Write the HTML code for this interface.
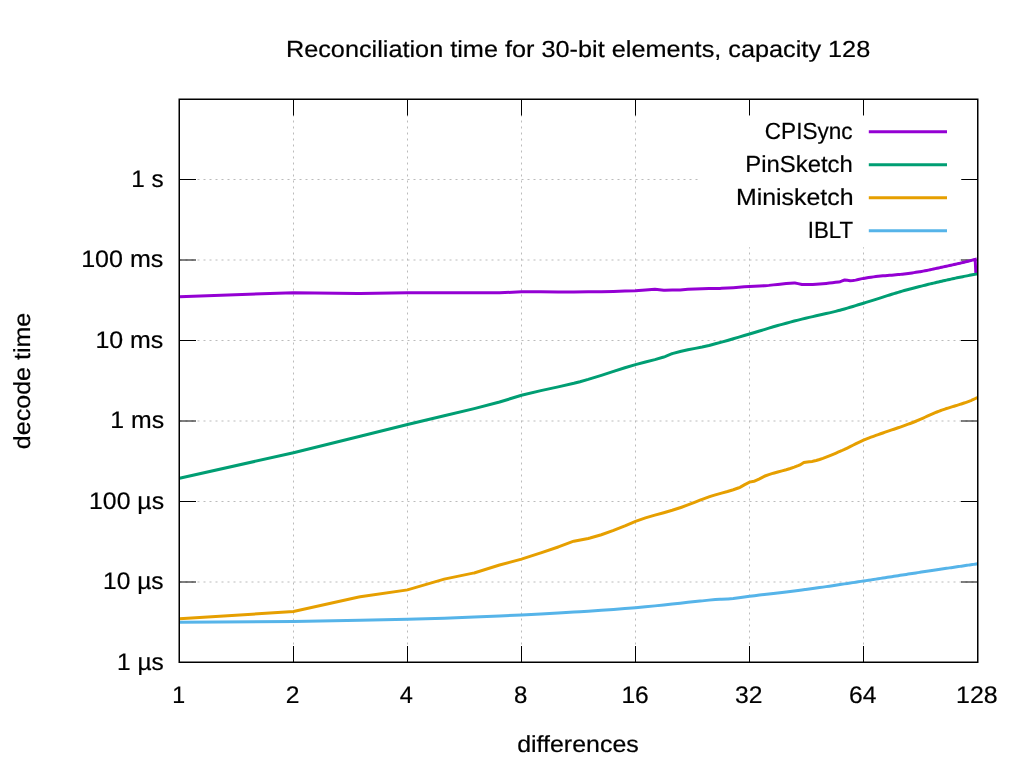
<!DOCTYPE html><html><head><meta charset="utf-8"><style>html,body{margin:0;padding:0;background:#fff;width:1024px;height:768px;overflow:hidden}svg{display:block;will-change:transform}text{font-family:"Liberation Sans", sans-serif;font-size:23.3px;fill:#000;stroke:#000;stroke-width:0.2px;text-rendering:geometricPrecision}</style></head><body>
<svg width="1024" height="768" viewBox="0 0 1024 768">
<rect x="0" y="0" width="1024" height="768" fill="#fff"/>
<g fill="none" stroke="#bbb" stroke-width="1" stroke-dasharray="2 4"><path d="M179.50,582.00 H977.50"/><path d="M179.50,501.50 H977.50"/><path d="M179.50,421.00 H977.50"/><path d="M179.50,340.50 H977.50"/><path d="M179.50,260.00 H977.50"/><path d="M179.50,179.50 H977.50"/><path d="M293.50,662.50 V99.00"/><path d="M407.50,662.50 V99.00"/><path d="M521.50,662.50 V99.00"/><path d="M635.50,662.50 V99.00"/><path d="M749.50,662.50 V99.00"/><path d="M863.50,662.50 V99.00"/></g>
<path d="M179.50,582.00 h16.50 M977.50,582.00 h-16.50 M179.50,501.50 h16.50 M977.50,501.50 h-16.50 M179.50,421.00 h16.50 M977.50,421.00 h-16.50 M179.50,340.50 h16.50 M977.50,340.50 h-16.50 M179.50,260.00 h16.50 M977.50,260.00 h-16.50 M179.50,179.50 h16.50 M977.50,179.50 h-16.50 M293.50,662.50 v-16.50 M293.50,99.00 v16.50 M407.50,662.50 v-16.50 M407.50,99.00 v16.50 M521.50,662.50 v-16.50 M521.50,99.00 v16.50 M635.50,662.50 v-16.50 M635.50,99.00 v16.50 M749.50,662.50 v-16.50 M749.50,99.00 v16.50 M863.50,662.50 v-16.50 M863.50,99.00 v16.50" fill="none" stroke="#000" stroke-width="1"/>
<rect x="698" y="115.75" width="263.25" height="131.5" fill="#fff"/>
<path d="M179.50,296.70 L293.50,292.70 L357.70,293.40 L360.19,293.40 L407.50,292.80 L444.20,292.80 L474.19,292.80 L499.54,292.80 L499.60,292.80 L521.50,291.80 L540.87,291.83 L558.20,291.88 L572.00,291.90 L573.88,291.90 L588.19,291.82 L601.35,291.64 L613.54,291.40 L624.89,291.12 L635.50,290.80 L645.47,289.95 L654.87,289.30 L655.00,289.30 L663.76,290.16 L665.00,290.20 L672.20,290.11 L680.00,289.90 L680.22,289.89 L687.88,289.37 L695.00,288.90 L695.19,288.89 L702.19,288.73 L708.90,288.62 L715.35,288.52 L720.00,288.40 L721.56,288.35 L727.54,288.05 L733.31,287.65 L738.89,287.23 L744.28,286.84 L749.50,286.50 L754.56,286.25 L759.47,286.02 L764.24,285.75 L765.00,285.70 L768.87,285.37 L773.38,284.88 L777.76,284.41 L780.00,284.20 L782.04,284.02 L786.20,283.61 L790.26,283.27 L794.22,283.11 L795.00,283.10 L798.09,283.60 L801.88,284.52 L803.00,284.60 L805.57,284.59 L809.19,284.51 L812.72,284.39 L816.19,284.22 L819.58,284.00 L822.90,283.73 L826.16,283.44 L829.35,283.10 L832.48,282.73 L835.56,282.34 L838.58,281.91 L840.00,281.70 L841.54,281.20 L844.45,280.05 L845.00,280.00 L847.31,280.35 L850.00,280.80 L850.12,280.80 L852.89,280.60 L855.60,280.12 L858.28,279.51 L860.91,278.90 L863.50,278.40 L866.05,277.99 L868.56,277.59 L871.03,277.22 L873.47,276.87 L875.87,276.55 L878.00,276.30 L878.24,276.27 L880.57,276.04 L882.87,275.83 L885.14,275.64 L887.38,275.46 L889.59,275.29 L891.76,275.13 L893.91,274.96 L896.04,274.78 L898.13,274.59 L900.00,274.40 L900.20,274.38 L902.24,274.16 L904.26,273.92 L906.25,273.68 L908.22,273.43 L910.17,273.17 L912.09,272.90 L914.00,272.63 L915.88,272.35 L917.73,272.06 L919.57,271.77 L920.00,271.70 L921.39,271.47 L923.19,271.14 L924.96,270.81 L926.72,270.46 L928.46,270.10 L930.19,269.73 L931.89,269.37 L933.58,269.00 L935.25,268.63 L936.90,268.27 L938.54,267.91 L940.00,267.60 L940.16,267.57 L941.76,267.23 L943.35,266.89 L944.92,266.55 L946.48,266.22 L948.03,265.88 L949.56,265.55 L951.07,265.22 L952.58,264.89 L954.06,264.56 L955.54,264.23 L957.00,263.89 L958.45,263.56 L959.89,263.23 L960.00,263.20 L961.31,262.89 L962.72,262.55 L964.12,262.21 L965.51,261.87 L966.89,261.53 L968.25,261.19 L969.60,260.85 L970.95,260.51 L972.28,260.16 L973.60,259.82 L974.91,259.48 L975.20,259.40 L975.80,273.00" fill="none" stroke="#9400d3" stroke-width="3" stroke-linejoin="miter" stroke-linecap="butt"/>
<path d="M179.50,478.20 L293.50,452.70 L360.19,436.32 L407.50,424.50 L444.20,415.81 L474.19,408.65 L499.54,402.02 L499.60,402.00 L521.50,395.30 L540.87,390.61 L558.20,386.86 L573.88,383.26 L580.00,381.70 L588.19,379.41 L601.35,375.36 L613.54,371.42 L624.89,367.79 L635.50,364.60 L645.47,361.99 L654.87,359.62 L663.76,357.02 L665.00,356.60 L672.00,353.70 L672.20,353.64 L680.22,351.45 L687.88,349.78 L695.19,348.35 L702.19,346.96 L708.90,345.47 L710.00,345.20 L715.35,343.82 L721.56,342.14 L727.54,340.44 L733.31,338.76 L738.89,337.12 L744.28,335.53 L749.50,334.00 L754.56,332.50 L759.47,331.02 L764.24,329.56 L768.87,328.15 L773.38,326.81 L777.76,325.53 L780.00,324.90 L782.04,324.33 L786.20,323.20 L790.26,322.11 L794.22,321.07 L798.09,320.08 L800.00,319.60 L801.88,319.14 L805.57,318.25 L809.19,317.40 L812.72,316.60 L816.19,315.82 L819.58,315.07 L822.90,314.32 L826.16,313.58 L829.35,312.84 L832.48,312.10 L835.56,311.34 L838.58,310.57 L840.00,310.20 L841.54,309.79 L844.45,308.97 L847.31,308.14 L850.12,307.30 L852.89,306.46 L855.60,305.62 L858.28,304.80 L860.91,303.99 L863.50,303.20 L866.05,302.42 L868.56,301.65 L871.03,300.88 L873.47,300.11 L875.87,299.34 L878.24,298.59 L880.57,297.84 L882.87,297.10 L885.14,296.38 L887.38,295.67 L889.59,294.97 L891.76,294.29 L893.91,293.62 L896.04,292.97 L898.13,292.34 L900.20,291.73 L902.24,291.13 L904.26,290.56 L906.25,290.00 L908.22,289.47 L910.00,289.00 L910.17,288.96 L912.09,288.46 L914.00,287.96 L915.88,287.48 L917.73,287.01 L919.57,286.54 L921.39,286.08 L923.19,285.63 L924.96,285.19 L926.72,284.76 L928.46,284.33 L930.19,283.91 L931.89,283.50 L933.58,283.10 L935.25,282.70 L936.90,282.31 L938.54,281.93 L940.16,281.55 L941.76,281.18 L943.35,280.82 L944.92,280.46 L946.48,280.12 L948.03,279.77 L949.56,279.44 L951.07,279.11 L952.58,278.78 L954.06,278.46 L955.54,278.15 L957.00,277.84 L958.45,277.54 L959.89,277.25 L961.31,276.96 L962.72,276.68 L964.12,276.40 L965.51,276.13 L966.89,275.86 L968.25,275.60 L969.60,275.34 L970.95,275.09 L972.28,274.84 L973.60,274.60 L974.91,274.36 L976.21,274.13 L977.50,273.90" fill="none" stroke="#009e73" stroke-width="3" stroke-linejoin="miter" stroke-linecap="butt"/>
<path d="M179.50,618.75 L293.50,611.50 L357.70,597.20 L360.19,596.78 L407.50,589.90 L444.20,579.10 L474.19,572.90 L474.20,572.90 L499.54,565.02 L499.60,565.00 L521.50,559.10 L540.00,553.10 L540.87,552.81 L558.20,546.97 L558.40,546.90 L573.00,541.40 L573.88,541.18 L588.19,538.42 L590.00,538.00 L601.35,534.72 L613.54,530.37 L624.89,525.95 L625.00,525.90 L635.50,521.30 L645.47,517.93 L654.87,515.18 L663.76,512.72 L672.20,510.29 L680.00,507.80 L680.22,507.72 L687.88,504.89 L695.19,502.03 L700.00,500.20 L702.19,499.39 L708.90,496.96 L712.00,495.90 L715.35,494.84 L721.56,493.08 L727.54,491.45 L733.31,489.73 L738.89,487.75 L740.00,487.30 L744.28,484.85 L749.50,482.10 L754.00,481.20 L754.56,481.04 L759.47,478.79 L764.24,476.32 L765.00,476.00 L768.87,474.59 L773.38,473.18 L777.76,471.96 L782.04,470.83 L786.20,469.71 L790.26,468.52 L794.22,467.21 L798.09,465.73 L800.00,464.90 L801.88,463.69 L804.00,462.50 L805.57,462.19 L809.19,461.78 L812.00,461.40 L812.72,461.26 L816.19,460.46 L819.58,459.47 L822.90,458.35 L826.16,457.13 L829.35,455.86 L832.48,454.55 L835.56,453.26 L838.58,451.99 L840.00,451.40 L841.54,450.75 L844.45,449.43 L847.31,448.05 L850.12,446.65 L852.89,445.25 L855.60,443.87 L858.28,442.56 L860.91,441.33 L863.50,440.20 L866.05,439.15 L868.56,438.16 L871.03,437.21 L873.47,436.30 L875.87,435.42 L878.24,434.58 L880.57,433.76 L882.87,432.96 L885.14,432.19 L887.38,431.43 L889.59,430.68 L891.76,429.95 L893.91,429.23 L896.04,428.51 L898.13,427.79 L900.20,427.08 L902.24,426.37 L904.26,425.65 L906.25,424.93 L908.22,424.21 L910.17,423.48 L912.09,422.75 L914.00,422.00 L915.88,421.24 L917.73,420.46 L919.57,419.67 L921.39,418.86 L923.19,418.06 L924.96,417.25 L926.72,416.46 L928.46,415.67 L930.19,414.89 L931.89,414.14 L933.58,413.40 L935.25,412.69 L936.90,412.01 L938.54,411.36 L940.00,410.80 L940.16,410.74 L941.76,410.16 L943.35,409.60 L944.92,409.06 L946.48,408.55 L948.03,408.06 L949.56,407.58 L951.07,407.11 L952.58,406.66 L954.06,406.21 L955.54,405.76 L957.00,405.32 L958.45,404.87 L959.89,404.42 L961.31,403.97 L962.72,403.51 L964.12,403.04 L965.51,402.57 L966.89,402.08 L968.25,401.57 L969.60,401.06 L970.00,400.90 L970.95,400.52 L972.28,399.94 L973.60,399.35 L974.91,398.74 L976.21,398.12 L977.50,397.50" fill="none" stroke="#e69f00" stroke-width="3" stroke-linejoin="miter" stroke-linecap="butt"/>
<path d="M179.50,622.30 L293.50,621.40 L360.19,620.36 L407.50,619.30 L444.20,618.20 L474.19,617.07 L499.54,615.99 L521.50,615.00 L540.87,614.03 L558.20,613.04 L573.88,612.09 L580.00,611.70 L588.19,611.17 L601.35,610.29 L613.54,609.43 L624.89,608.56 L635.50,607.70 L645.47,606.80 L654.87,605.87 L663.76,604.94 L672.20,604.03 L680.22,603.16 L687.88,602.34 L695.19,601.58 L700.00,601.10 L702.19,600.87 L708.90,600.12 L715.35,599.48 L720.00,599.20 L721.56,599.15 L727.54,599.02 L728.00,599.00 L733.31,598.60 L738.89,597.86 L744.28,597.03 L749.50,596.30 L754.56,595.68 L759.47,595.10 L764.24,594.53 L768.87,593.99 L773.38,593.46 L777.76,592.95 L782.04,592.45 L786.20,591.95 L790.26,591.46 L794.22,590.98 L798.09,590.49 L801.88,590.01 L805.00,589.60 L805.57,589.52 L809.19,589.04 L812.72,588.55 L816.19,588.07 L819.58,587.59 L822.90,587.11 L826.16,586.63 L829.35,586.16 L832.48,585.70 L835.56,585.24 L838.58,584.78 L841.54,584.33 L844.45,583.89 L847.31,583.46 L850.12,583.03 L852.89,582.61 L855.60,582.19 L858.28,581.79 L860.91,581.39 L863.50,581.00 L866.05,580.62 L868.56,580.23 L871.03,579.86 L873.47,579.48 L875.87,579.12 L878.24,578.75 L880.57,578.39 L882.87,578.03 L885.14,577.68 L887.38,577.33 L889.59,576.99 L891.76,576.65 L893.91,576.32 L896.04,575.99 L898.13,575.66 L900.20,575.34 L902.24,575.02 L904.26,574.71 L906.25,574.40 L908.22,574.10 L910.17,573.80 L912.09,573.50 L914.00,573.21 L915.88,572.93 L917.73,572.64 L919.57,572.36 L920.00,572.30 L921.39,572.09 L923.19,571.82 L924.96,571.55 L926.72,571.29 L928.46,571.03 L930.19,570.77 L931.89,570.51 L933.58,570.26 L935.25,570.01 L936.90,569.77 L938.54,569.52 L940.16,569.28 L941.76,569.04 L943.35,568.81 L944.92,568.57 L946.48,568.34 L948.03,568.11 L949.56,567.89 L951.07,567.66 L952.58,567.44 L954.06,567.22 L955.54,567.00 L957.00,566.79 L958.45,566.58 L959.89,566.37 L961.31,566.16 L962.72,565.95 L964.12,565.75 L965.51,565.54 L966.89,565.34 L968.25,565.14 L969.60,564.95 L970.95,564.75 L972.28,564.56 L973.60,564.37 L974.91,564.18 L976.21,563.99 L977.50,563.80" fill="none" stroke="#56b4e9" stroke-width="3" stroke-linejoin="miter" stroke-linecap="butt"/>
<rect x="179.25" y="99.25" width="798.50" height="563.00" fill="none" stroke="#000" stroke-width="1.5"/>
<path d="M868.8,131.75 H947" stroke="#9400d3" stroke-width="3"/>
<path d="M868.8,164.75 H947" stroke="#009e73" stroke-width="3"/>
<path d="M868.8,197.75 H947" stroke="#e69f00" stroke-width="3"/>
<path d="M868.8,230.75 H947" stroke="#56b4e9" stroke-width="3"/>
<text transform="translate(285.889,56.800) scale(1.08469,1)" x="0" y="0">Reconciliation time for 30-bit elements, capacity 128</text>
<text transform="translate(131.160,187.000) scale(1.01149,1)" x="0" y="0" style="font-size:24.0px">1 s</text>
<text transform="translate(81.180,267.000) scale(1.04372,1)" x="0" y="0" style="font-size:24.0px">100 ms</text>
<text transform="translate(95.413,348.000) scale(1.03887,1)" x="0" y="0" style="font-size:24.0px">10 ms</text>
<text transform="translate(110.249,428.000) scale(1.03451,1)" x="0" y="0" style="font-size:24.0px">1 ms</text>
<text transform="translate(89.068,509.000) scale(1.03349,1)" x="0" y="0" style="font-size:24.0px">100 µs</text>
<text transform="translate(103.108,589.000) scale(1.02029,1)" x="0" y="0" style="font-size:24.0px">10 µs</text>
<text transform="translate(117.087,670.000) scale(1.01847,1)" x="0" y="0" style="font-size:24.0px">1 µs</text>
<text transform="translate(172.366,703.000) scale(0.96543,1)" x="0" y="0" style="font-size:24.0px">1</text>
<text transform="translate(285.800,703.000) scale(1.02714,1)" x="0" y="0" style="font-size:24.0px">2</text>
<text transform="translate(399.692,703.000) scale(0.98246,1)" x="0" y="0" style="font-size:24.0px">4</text>
<text transform="translate(513.924,703.000) scale(0.99937,1)" x="0" y="0" style="font-size:24.0px">8</text>
<text transform="translate(621.391,703.000) scale(1.02470,1)" x="0" y="0" style="font-size:24.0px">16</text>
<text transform="translate(735.098,703.000) scale(1.02680,1)" x="0" y="0" style="font-size:24.0px">32</text>
<text transform="translate(848.918,703.000) scale(1.02749,1)" x="0" y="0" style="font-size:24.0px">64</text>
<text transform="translate(956.076,703.000) scale(1.03916,1)" x="0" y="0" style="font-size:24.0px">128</text>
<text transform="translate(517.131,752.000) scale(1.07141,1)" x="0" y="0">differences</text>
<text transform="translate(764.760,139.100) scale(0.96935,1)" x="0" y="0">CPISync</text>
<text transform="translate(745.251,171.900) scale(1.02544,1)" x="0" y="0">PinSketch</text>
<text transform="translate(735.916,205.000) scale(1.06846,1)" x="0" y="0">Minisketch</text>
<text transform="translate(807.811,238.100) scale(0.95649,1)" x="0" y="0">IBLT</text>
<text transform="translate(30.1,449.130) rotate(-90) scale(1.07488,1)" x="0" y="0">decode time</text>
</svg></body></html>
